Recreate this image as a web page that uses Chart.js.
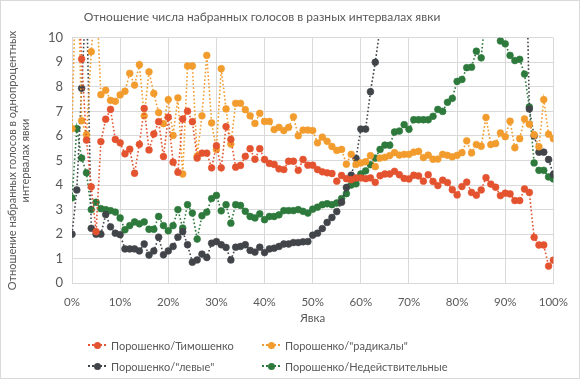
<!DOCTYPE html>
<html><head><meta charset="utf-8">
<script src="https://cdn.jsdelivr.net/npm/chart.js@4"></script>
<style>
html,body{margin:0;padding:0;background:#fff;}
#wrap{position:relative;width:580px;height:379px;font-family:Lato,'Noto Sans',sans-serif;color:#595959;}
#frame{position:absolute;left:0;top:0;width:578px;height:377px;border:1px solid #d9d9d9;pointer-events:none;}
#title{position:absolute;left:0;width:524px;top:9px;text-align:center;font-size:12px;white-space:nowrap;}
.item{position:absolute;display:flex;align-items:center;white-space:nowrap;font-size:11px;height:16px;}
.mk{position:relative;width:18px;height:8px;margin-right:5px;}
.mk .ln{position:absolute;left:0;right:0;top:3px;border-top:2px dotted;}
.mk .dt{position:absolute;left:5.5px;top:0.5px;width:7px;height:7px;border-radius:50%;}
</style></head>
<body>
<div id="wrap">
<canvas id="c" width="580" height="379"></canvas>
<div id="title">Отношение числа набранных голосов в разных интервалах явки</div>
<div id="legend"></div>
<div id="frame"></div>
</div>
<script>
const chartTitle = 'Отношение числа набранных голосов в разных интервалах явки';
const xTitle = 'Явка';
const yTitle = ['Отношение набранных голосов в однопроцентных', 'интервалах явки'];
const seriesNames = ['Порошенко/Тимошенко', 'Порошенко/"радикалы"', 'Порошенко/"левые"', 'Порошенко/Недействительные'];
const seriesColors = ['#E4532F', '#F29C2E', '#41454A', '#2E7A3D'];

const turnout = [0,1,2,3,4,5,6,7,8,9,10,11,12,13,14,15,16,17,18,19,20,21,22,23,24,25,26,27,28,29,30,31,32,33,34,35,36,37,38,39,40,41,42,43,44,45,46,47,48,49,50,51,52,53,54,55,56,57,58,59,60,61,62,63,64,65,66,67,68,69,70,71,72,73,74,75,76,77,78,79,80,81,82,83,84,85,86,87,88,89,90,91,92,93,94,95,96,97,98,99,100];

const timoshenko = [10.8,13,9.13,5.83,3.93,2.1,5.77,6.68,7.08,5.86,5.72,5.27,5.46,4.48,5.66,7.12,5.43,6.08,6.58,5.16,6.76,4.93,4.52,6.69,7.01,6.58,5.1,5.3,5.3,4.7,5.6,4.7,6.38,5.86,4.73,4.8,5.17,5.48,5.05,5.48,5.04,4.88,4.84,4.66,4.63,4.97,4.97,4.6,5.04,4.81,4.81,4.63,4.54,4.5,4.47,4.16,4.39,4.26,4.22,4.29,4.29,4.26,4.29,4.11,4.38,4.45,4.45,4.56,4.42,4.27,4.25,4.4,4.37,4.16,4.42,4.15,3.98,4.2,4.1,3.81,3.6,3.94,4.12,3.7,3.59,3.8,4.3,4.04,3.91,3.57,3.67,3.64,3.37,3.37,3.84,3.7,1.87,1.56,1.56,0.7,0.94];

const radicals = [6.3,14,6.62,6.05,9.43,12,7.68,7.86,7.45,7.41,7.67,7.82,8.55,8.07,8.9,6.82,8.61,7.73,6.95,6.5,7.48,6.02,7.55,4.45,8.85,8.85,5.18,6.82,9.28,6.53,5.45,8.74,7.1,5.67,7.33,7.33,7.07,6.82,6.51,6.92,6.59,6.59,6.26,6.35,6.22,6.35,6.78,6.01,6.24,6.24,6.22,5.72,5.95,5.78,5.57,5.41,5.45,4.85,5.25,4.84,4.9,4.95,5.2,4.75,5.1,5.13,5.2,5.32,5.22,5.25,5.25,5.34,5.37,5.12,5.22,5.05,5.06,5.25,5.21,5.15,5.21,5.32,5.8,5.31,5.65,5.58,6.75,5.65,5.69,6.12,5.97,6.6,5.52,5.89,6.69,6.48,6.05,5.56,7.48,6.07,5.89];

const leftParties = [2.0,3.8,7.94,12,2.24,2.0,2.0,2.8,2.3,2.04,1.98,1.4,1.4,1.4,1.32,1.6,1.15,1.32,1.88,1.16,1.32,1.5,1.88,2.1,1.57,0.86,0.95,1.19,1.05,1.63,1.7,1.57,1.46,0.95,1.47,1.5,1.57,1.34,1.27,1.47,1.25,1.4,1.43,1.5,1.6,1.6,1.66,1.66,1.69,1.7,1.96,2.04,2.23,2.48,2.68,2.92,3.3,3.9,4.4,5.09,6.28,6.28,7.8,9.0,10.4,12,14,15,16,18,19,20,21,22,23,24,25,26,27,28,28,29,30,30,31,31,30,29,28,27,25,23,21,19,16.8,7.1,6.0,5.34,5.34,5.04,4.43];

const invalid = [3.48,6.3,5.1,4.5,3.0,3.3,3.04,3.0,2.96,2.9,2.66,2.18,2.35,2.5,2.42,2.5,2.2,2.2,2.72,2.35,2.14,2.35,3.0,2.25,3.2,2.86,1.8,2.75,2.9,3.45,3.58,2.95,3.2,2.45,3.2,3.17,2.93,2.72,2.66,2.83,2.59,2.72,2.72,2.79,2.96,2.96,2.96,3.0,2.93,2.86,3.02,3.1,3.2,3.24,3.2,3.27,3.45,3.65,4.0,4.05,4.45,4.58,4.83,5.1,5.45,5.63,5.62,6.16,6.2,6.46,6.27,6.66,6.66,6.66,6.66,6.8,7.08,7.0,7.37,7.53,8.22,8.3,8.78,8.8,9.45,9.18,11.2,12,10.4,9.87,9.75,9.28,9.07,9.12,8.52,7.18,4.9,4.6,4.6,4.33,4.25];

const seriesValues = [timoshenko, radicals, leftParties, invalid];

const FONT = "Lato, 'Noto Sans', sans-serif";
Chart.defaults.font.family = FONT;
Chart.defaults.color = '#595959';

// HTML legend (2 columns)
const legendEl = document.getElementById('legend');
const legX = [88, 262], legY = [337, 358];
seriesNames.forEach((n, i) => {
  const d = document.createElement('div');
  d.className = 'item';
  d.style.left = legX[i % 2] + 'px';
  d.style.top = legY[Math.floor(i / 2)] + 'px';
  d.innerHTML = '<span class="mk"><span class="ln" style="border-top-color:' + seriesColors[i] + '"></span><span class="dt" style="background:' + seriesColors[i] + '"></span></span><span></span>';
  d.lastChild.textContent = n;
  legendEl.appendChild(d);
});

const datasets = seriesNames.map((name, i) => ({
  label: name,
  data: turnout.map((t, j) => ({ x: t, y: seriesValues[i][j] })),
  borderColor: seriesColors[i],
  backgroundColor: seriesColors[i],
  borderWidth: 1.6,
  borderDash: [1.6, 2.2],
  pointRadius: 3.4,
  pointBorderWidth: 0.6,
  pointBorderColor: seriesColors[i],
  pointBackgroundColor: seriesColors[i],
  tension: 0
}));

new Chart(document.getElementById('c'), {
  type: 'line',
  data: { datasets },
  options: {
    responsive: false,
    animation: false,
    events: [],
    layout: { padding: { top: 37.7, right: 24, bottom: 51.7, left: 0 } },
    plugins: { legend: { display: false }, title: { display: false }, tooltip: { enabled: false } },
    scales: {
      x: {
        type: 'linear', min: 0, max: 100,
        afterFit: s => { s.height = 44; },
        grid: { color: '#d9d9d9', drawTicks: false },
        border: { color: '#d9d9d9' },
        ticks: { stepSize: 10, padding: 12, font: { size: 11.5 }, callback: v => v + '%' },
        title: { display: true, text: xTitle, font: { size: 11.5 }, padding: { top: 0, bottom: 2.4 } }
      },
      y: {
        min: 0, max: 10,
        afterFit: s => { s.width = 72; },
        grid: { color: '#d9d9d9', drawTicks: false },
        border: { display: false },
        ticks: { stepSize: 1, padding: 9, font: { size: 13 } },
        title: { display: true, text: yTitle, font: { size: 11 }, padding: { top: 5.5, bottom: 0 } }
      }
    }
  }
});
</script>
</body></html>
